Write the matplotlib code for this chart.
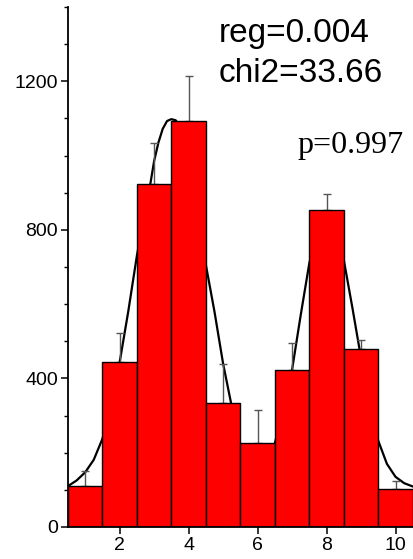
import matplotlib
matplotlib.use("Agg")
import matplotlib.pyplot as plt
from matplotlib.ticker import MultipleLocator

# Histogram data
bins = [1, 2, 3, 4, 5, 6, 7, 8, 9, 10]
counts = [110, 443, 924, 1093, 335, 227, 423, 854, 479, 102]
err_up = [40, 80, 111, 120, 104, 87, 72, 42, 24, 23]

# Fitted curve samples
curve_x = [0.5, 0.75, 1.0, 1.25, 1.5, 1.75, 2.0, 2.25, 2.5, 2.75, 2.875, 3.0,
           3.125, 3.25, 3.375, 3.5, 3.625, 3.75, 4.0, 4.25, 4.5, 4.75, 5.0,
           5.25, 5.5, 5.75, 6.0, 6.25, 6.5, 6.75, 7.0, 7.25, 7.5, 7.75, 8.0,
           8.25, 8.5, 8.75, 9.0, 9.25, 9.5, 9.75, 10.0, 10.25, 10.5]
curve_y = [110, 125, 147, 181, 237, 325, 443, 580, 730, 860, 915, 985,
           1035, 1072, 1093, 1098, 1095, 1080, 1020, 890, 706, 580, 440,
           325, 220, 190, 185, 198, 225, 320, 423, 570, 710, 810, 850,
           815, 719, 590, 455, 340, 232, 170, 135, 118, 109]

y_ticks = [0, 400, 800, 1200]
x_ticks = [2, 4, 6, 8, 10]

plt.rcParams['font.family'] = ['Liberation Sans', 'DejaVu Sans']

fig = plt.figure(figsize=(4.14, 5.59), dpi=100)
ax = fig.add_axes([0.164, 0.0573, 0.833, 0.9302])

ax.plot(curve_x, curve_y, color='black', lw=1.6, zorder=1,
        solid_joinstyle='round')
ax.errorbar(bins, counts, yerr=[[0] * len(err_up), err_up], fmt='none',
            ecolor='#555555', elinewidth=1.0, capsize=3, capthick=1.0, zorder=1.5)
ax.bar(bins, counts, width=1.0, color='#ff0000', edgecolor='black', lw=1.0, zorder=2)

ax.set_xlim(0.5, 10.5)
ax.set_ylim(0, 1400)
ax.set_xticks(x_ticks)
ax.set_yticks(y_ticks)
ax.yaxis.set_minor_locator(MultipleLocator(100))
ax.spines['top'].set_visible(False)
ax.spines['right'].set_visible(False)
for s in ('left', 'bottom'):
    ax.spines[s].set_linewidth(1.3)
ax.tick_params(axis='both', which='major', direction='out', length=5, width=1.1,
               labelsize=14, pad=2)
ax.tick_params(axis='y', which='minor', direction='out', length=3, width=1.0)

fig.text(219 / 414, 1 - 42 / 559, 'reg=0.004', fontsize=24, va='baseline', ha='left')
fig.text(219 / 414, 1 - 81.7 / 559, 'chi2=33.66', fontsize=24, va='baseline', ha='left')
fig.text(297 / 414, 1 - 153 / 559, 'p=0.997', fontsize=23, va='baseline', ha='left',
         family=['Liberation Serif', 'DejaVu Serif'])

fig.savefig('out.png', dpi=100)
